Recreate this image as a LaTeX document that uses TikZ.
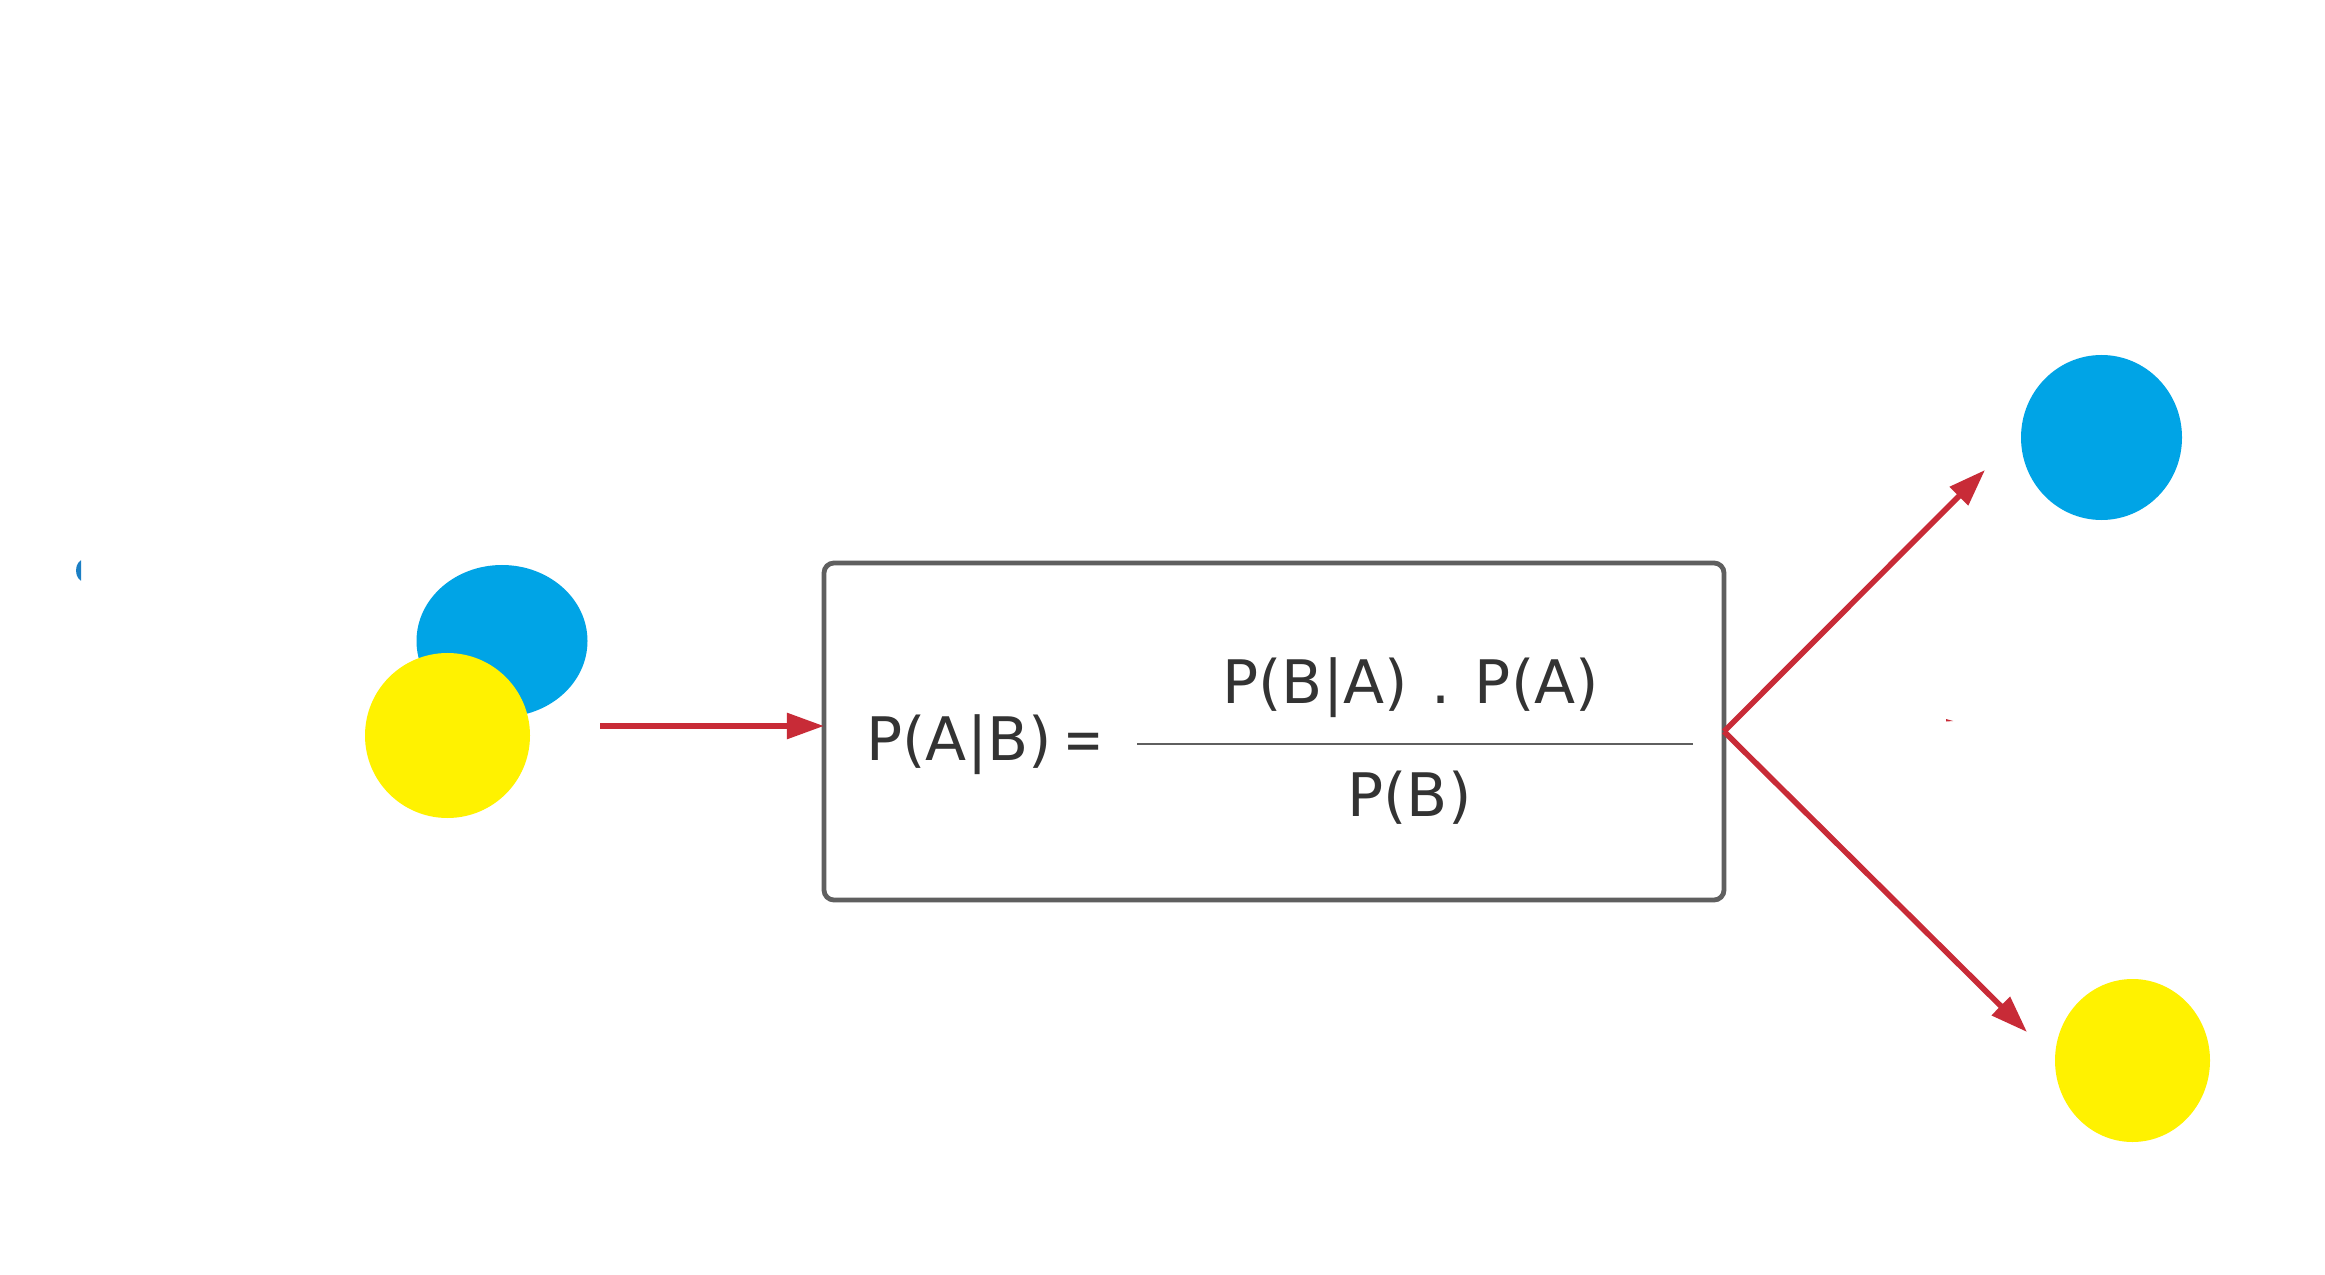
\documentclass[tikz,border=0pt]{standalone}
\usepackage{fontspec}
\setmainfont{DejaVu Sans}
\usetikzlibrary{arrows.meta,shapes.geometric}
\definecolor{cblue}{HTML}{00A4E6}
\definecolor{cyellow}{HTML}{FFF200}
\definecolor{cred}{HTML}{C82B37}
\definecolor{cgray}{HTML}{5F5F5F}
\definecolor{ctext}{HTML}{333333}
\definecolor{cdark}{HTML}{1B7FC4}
\begin{document}
\begin{tikzpicture}[x=0.5bp,y=-0.5bp,
  ball/.style={ellipse,draw=none,inner sep=0pt,outer sep=0pt},
  formula/.style={inner sep=0pt,anchor=base west,text=ctext,font=\fontsize{30bp}{36bp}\selectfont},
  flow/.style={draw=cred,line width=2.8bp,-{Triangle[length=18.5bp,width=12.5bp]}},
  boxstyle/.style={draw=cgray,line width=2.4bp,rounded corners=5bp,minimum width=450bp,minimum height=168.5bp,inner sep=0pt,outer sep=0pt}
]
\useasboundingbox (0,0) rectangle (2325,1275);
\fill[white] (0,0) rectangle (2325,1275);

% central box
\node[boxstyle] (box) at (1274,731.5) {};

% balls
\node[ball,fill=cblue,minimum width=85.5bp,minimum height=76bp] (inblue) at (502,641) {};
\node[ball,fill=cyellow,minimum width=82.5bp,minimum height=82.5bp] (inyellow) at (447.5,735.5) {};
\node[ball,fill=cblue,minimum width=80.5bp,minimum height=82.5bp] (outblue) at (2101.5,437.5) {};
\node[ball,fill=cyellow,minimum width=77.5bp,minimum height=81.5bp] (outyellow) at (2132.5,1060.5) {};

% formula
\node[formula] (lhs) at (866,760) {P(A|B)\kern6bp\scalebox{0.8}[1]{=}};
\node[formula] (num) at (1222,703) {P(B|A)\kern12bp.\kern12bp P(A)};
\node[formula] (den) at (1347,816) {P(B)};
\draw[cgray,line width=1.35bp] (1137,744) -- (1693,744);

% connectors
\coordinate (src) at (600,726);
\coordinate (tipup) at (1985,470);
\coordinate (tipdown) at (2027,1032);
\draw[flow] (src) -- (src -| box.west);
\draw[flow] (box.east) -- (tipup);
\draw[flow] (box.east) -- (tipdown);

% small fragments
\begin{scope}
\clip (60,550) rectangle (81,592);
\fill[cdark] (84,570.5) ellipse [x radius=4bp, y radius=5.5bp];
\end{scope}
\fill[cred] (1946,719) -- (1953,721) -- (1946,721.5) -- cycle;
\end{tikzpicture}
\end{document}
